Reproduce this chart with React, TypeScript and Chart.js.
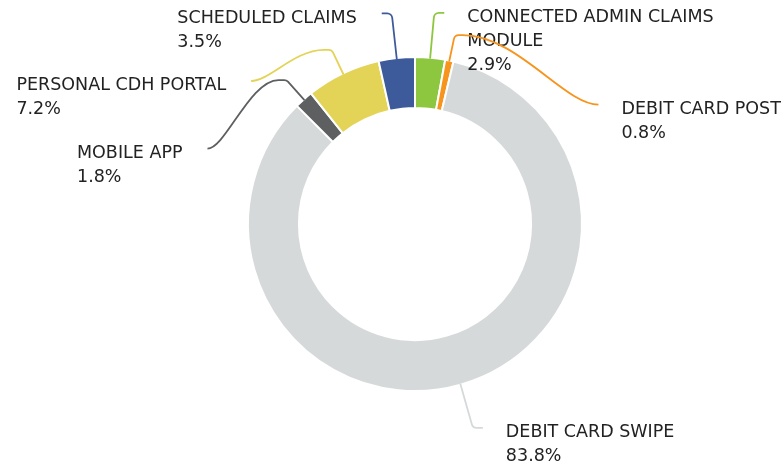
import React, { useEffect, useRef } from 'react';
import { Chart, registerables } from 'chart.js';

Chart.register(...registerables);

const categories = [
  'CONNECTED ADMIN CLAIMS MODULE',
  'DEBIT CARD POST',
  'DEBIT CARD SWIPE',
  'MOBILE APP',
  'PERSONAL CDH PORTAL',
  'SCHEDULED CLAIMS',
];
const shares = [2.9, 0.8, 83.8, 1.8, 7.2, 3.5];
const sliceColors = ['#8dc63f', '#f7941d', '#d6d9da', '#5e5f61', '#e3d356', '#3d5a9b'];

const FONT = '17.5px "DejaVu Sans"';
const LINE_H = 24;
const GAP = 19.7;
const WRAP_W = 255;

function wrap(ctx: CanvasRenderingContext2D, text: string, maxW: number): string[] {
  const words = text.split(' ');
  const out: string[] = [];
  let cur = '';
  for (const w of words) {
    const test = cur ? cur + ' ' + w : w;
    if (cur && ctx.measureText(test).width > maxW) {
      out.push(cur);
      cur = w;
    } else cur = test;
  }
  if (cur) out.push(cur);
  return out;
}

const calloutPlugin = {
  id: 'callouts',
  afterDraw(chart: any) {
    const ctx: CanvasRenderingContext2D = chart.ctx;
    const meta = chart.getDatasetMeta(0);
    ctx.save();
    ctx.font = FONT;
    const items = meta.data.map((arc: any, i: number) => {
      const p = arc.getProps(['x', 'y', 'startAngle', 'endAngle', 'outerRadius'], true);
      const mid = (p.startAngle + p.endAngle) / 2;
      const R = p.outerRadius - 1;
      const side = Math.cos(mid) >= 0 ? 1 : -1;
      const lines = wrap(ctx, categories[i], WRAP_W).concat([shares[i].toFixed(1) + '%']);
      const EB = R + 46;
      return { i, cx: p.x, cy: p.y, mid, R, side, lines, naturalY: p.y + EB * Math.sin(mid), endY: 0 };
    });
    for (const s of [1, -1]) {
      const group = items.filter((it: any) => it.side === s).sort((a: any, b: any) => a.naturalY - b.naturalY);
      let minY = -Infinity;
      for (const it of group) {
        it.endY = Math.max(it.naturalY, minY);
        minY = it.endY + it.lines.length * LINE_H + GAP;
      }
    }
    for (const it of items) {
      const { cx, cy, mid, R, side, lines, endY } = it;
      const EA = R + 56;
      const EB = R + 46;
      const c = Math.cos(mid);
      const s = Math.sin(mid);
      const p0x = cx + c * R;
      const p0y = cy + s * R;
      const t = Math.abs(s) > 1e-6 ? (endY - cy) / s : -1;
      const hit = t > R && t < R + 60;
      const re = hit ? t : R + 27;
      const p1x = cx + c * re;
      const p1y = cy + s * re;
      const k = Math.max(0, 1 - ((endY - cy) / EB) ** 2);
      const ellX = cx + side * EA * Math.sqrt(k);
      const endX = side > 0 ? Math.max(ellX, p1x + 10) : Math.min(ellX, p1x - 10);
      ctx.beginPath();
      ctx.strokeStyle = sliceColors[it.i];
      ctx.lineWidth = 1.8;
      ctx.lineJoin = 'round';
      ctx.moveTo(p0x, p0y);
      if (hit) {
        ctx.arcTo(p1x, p1y, endX, endY, 5);
        ctx.lineTo(endX, endY);
      } else {
        const hx = p1x + side * 8;
        const hy = p1y;
        ctx.arcTo(p1x, p1y, hx, hy, 5);
        ctx.lineTo(hx, hy);
        const dx = Math.abs(endX - hx);
        ctx.bezierCurveTo(hx + side * dx * 0.4, hy, endX - side * dx * 0.25, endY, endX, endY);
      }
      ctx.stroke();

      ctx.fillStyle = '#222222';
      ctx.textBaseline = 'alphabetic';
      ctx.textAlign = 'left';
      const blockW = Math.max(...lines.map((l: string) => ctx.measureText(l).width));
      const x0 = side > 0 ? endX + 23 : endX - 25 - blockW;
      lines.forEach((l: string, j: number) => {
        ctx.fillText(l, x0, endY + 9.5 + j * LINE_H);
      });
    }
    ctx.restore();
  },
};

export default function App() {
  const ref = useRef<HTMLCanvasElement | null>(null);
  useEffect(() => {
    if (!ref.current) return;
    const chart = new Chart(ref.current, {
      type: 'doughnut',
      data: {
        labels: categories,
        datasets: [
          {
            data: shares,
            backgroundColor: sliceColors,
            borderColor: '#ffffff',
            borderWidth: 2,
          },
        ],
      },
      options: {
        responsive: false,
        animation: false,
        cutout: '69.5%',
        layout: { padding: { left: 247, right: 200, top: 56, bottom: 74 } },
        plugins: {
          legend: { display: false },
          tooltip: { enabled: false },
        },
      },
      plugins: [calloutPlugin],
    });
    return () => chart.destroy();
  }, []);
  return (
    <div style={{ position: 'absolute', left: 0, top: 0, width: 783, height: 466, background: '#fff' }}>
      <canvas ref={ref} width={783} height={466} style={{ width: 783, height: 466, display: 'block' }} />
    </div>
  );
}
